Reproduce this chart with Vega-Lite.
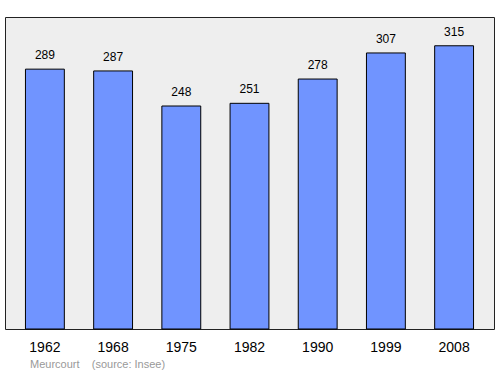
{
  "$schema": "https://vega.github.io/schema/vega-lite/v6.json",
  "width": 489,
  "height": 312,
  "autosize": "none",
  "padding": {"left": 5, "top": 17, "right": 6, "bottom": 45},
  "background": "white",
  "config": {
    "view": {"fill": "#EEEEEE", "stroke": "#222222", "strokeWidth": 1},
    "font": "Liberation Sans"
  },
  "title": {
    "text": "Meurcourt\u00a0\u00a0\u00a0\u00a0(source: Insee)",
    "orient": "bottom",
    "anchor": "start",
    "dx": 25,
    "offset": 5,
    "fontSize": 11,
    "fontWeight": "normal",
    "color": "#999999",
    "font": "Liberation Sans"
  },
  "data": {
    "values": [
      {"year": "1962", "pop": 289},
      {"year": "1968", "pop": 287},
      {"year": "1975", "pop": 248},
      {"year": "1982", "pop": 251},
      {"year": "1990", "pop": 278},
      {"year": "1999", "pop": 307},
      {"year": "2008", "pop": 315}
    ]
  },
  "encoding": {
    "x": {
      "field": "year",
      "type": "nominal",
      "sort": null,
      "scale": {"paddingInner": 0.43, "paddingOuter": 0.3},
      "axis": {
        "title": null,
        "labelAngle": 0,
        "ticks": false,
        "domain": false,
        "labelFontSize": 14,
        "labelColor": "#000000",
        "labelPadding": 11,
        "labelFont": "Liberation Sans"
      }
    },
    "y": {
      "field": "pop",
      "type": "quantitative",
      "scale": {"domain": [0, 347], "nice": false},
      "axis": null
    }
  },
  "layer": [
    {
      "mark": {"type": "bar", "color": "#7094FF", "stroke": "#000000", "strokeWidth": 1}
    },
    {
      "mark": {"type": "text", "baseline": "alphabetic", "dy": -10, "fontSize": 12, "color": "#000000"},
      "encoding": {"text": {"field": "pop", "type": "quantitative"}}
    }
  ]
}
